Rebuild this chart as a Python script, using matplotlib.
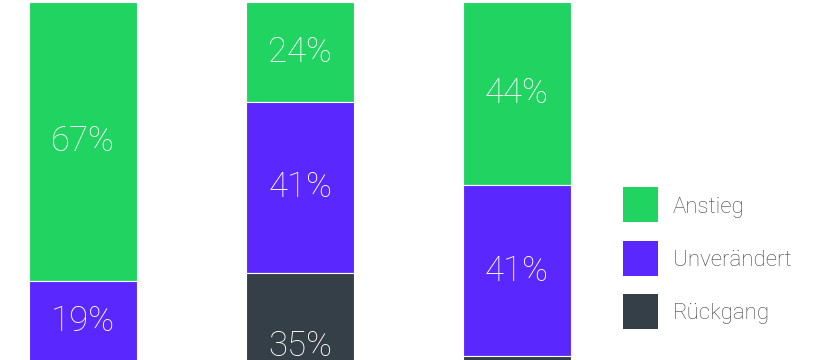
import matplotlib

matplotlib.use("Agg")
import matplotlib.pyplot as plt
from matplotlib.patches import Rectangle
import numpy as np

# values (percent); the reference chart is cropped at the bottom
groups = ["Gruppe 1", "Gruppe 2", "Gruppe 3"]
series_names = ["Anstieg", "Unverändert", "Rückgang"]
anstieg = [67, 24, 44]
unveraendert = [19, 41, 41]
rueckgang = [14, 35, 15]
colors = ["#21d462", "#5a28ff", "#353f48"]

plt.rcParams["font.family"] = ["Roboto", "DejaVu Sans"]

fig = plt.figure(figsize=(8.2, 3.6), dpi=100)
ax = fig.add_axes([0, 0, 1, 1])

ylim = (85.85, -0.48)
x = np.arange(len(groups))
bottom = np.zeros(len(groups))
for values, color in zip([anstieg, unveraendert, rueckgang], colors):
    ax.bar(x, values, bottom=bottom, width=0.496, color=color, edgecolor="white",
           linewidth=0.8)
    for xi, b, v in zip(x, bottom, values):
        centre = b + v / 2
        if centre < ylim[0]:  # labels below the crop are not visible
            ax.text(xi, centre, f"{v}%", ha="center", va="center", color="white",
                    fontsize=25, fontweight="light")
    bottom += values

ax.set_xlim(-0.384, 3.397)
ax.set_ylim(*ylim)
ax.axis("off")

# legend drawn by hand: 35 px squares, 54 px row pitch
W, H = 820, 360
for i, (name, color) in enumerate(zip(series_names, colors)):
    top = 187 + i * 53.5
    fig.add_artist(Rectangle((623 / W, 1 - (top + 35) / H), 35 / W, 35 / H,
                             transform=fig.transFigure, facecolor=color,
                             edgecolor="none"))
    fig.text(673 / W, 1 - (top + 17.5 + 8) / H, name, ha="left", va="baseline",
             fontsize=16, fontweight="light", color="#444444")

fig.savefig("out.png", dpi=100)
